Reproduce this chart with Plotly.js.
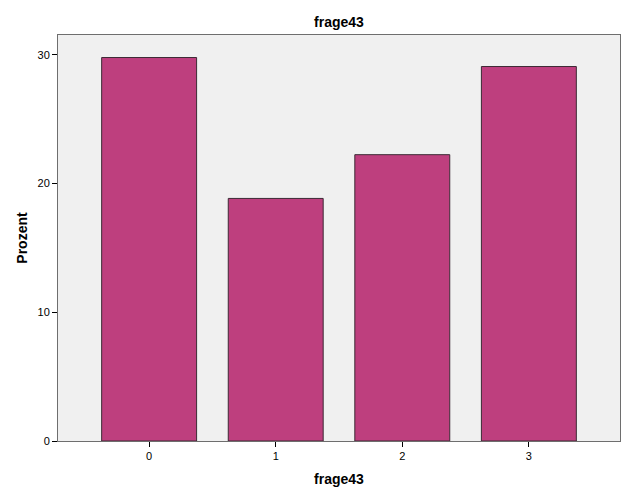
<!DOCTYPE html>
<html>
<head>
<meta charset="utf-8">
<script src="https://cdn.plot.ly/plotly-3.0.1.min.js"></script>
<style>html,body{margin:0;padding:0;background:#fff;}#chart{width:626px;height:501px;}</style>
</head>
<body>
<div id="chart"></div>
<script>
var categories = [0, 1, 2, 3];
var tickLabels = ["0", "1", "2", "3"];
var percentValues = [29.8, 18.85, 22.25, 29.1];
var yTicks = [0, 10, 20, 30];

var trace = {
  type: 'bar',
  x: categories,
  y: percentValues,
  width: 0.75,
  marker: {color: '#BE3F7E', line: {color: '#3C2A34', width: 1}},
  hoverinfo: 'none'
};

var layout = {
  width: 626, height: 501,
  margin: {l: 58, r: 6, t: 35, b: 60, pad: 0},
  paper_bgcolor: '#ffffff',
  plot_bgcolor: '#F0F0F0',
  font: {family: 'Liberation Sans, Arial, sans-serif', size: 11, color: '#000'},
  title: {text: '<b>frage43</b>', font: {size: 14, family: 'Liberation Sans, Arial, sans-serif', color: '#000'}, x: 0.5415, xanchor: 'center', y: 0.956, yanchor: 'middle'},
  showlegend: false,
  bargap: 0,
  xaxis: {
    range: [-0.72, 3.72],
    tickmode: 'array', tickvals: categories, ticktext: tickLabels,
    ticks: 'outside', ticklen: 5, tickcolor: '#000', tickwidth: 1,
    showline: true, linecolor: '#6E6E6E', linewidth: 1, mirror: true,
    showgrid: false, zeroline: false,
    tickfont: {size: 11},
    title: {text: '<b>frage43</b>', font: {size: 14}, standoff: 12}
  },
  yaxis: {
    range: [0, 31.55],
    tickmode: 'array', tickvals: yTicks,
    ticks: 'outside', ticklen: 5, tickcolor: '#000', tickwidth: 1,
    showline: true, linecolor: '#6E6E6E', linewidth: 1, mirror: true,
    showgrid: false, zeroline: false,
    tickfont: {size: 11},
    title: {text: '<b>Prozent</b>', font: {size: 14}, standoff: 6}
  }
};

Plotly.newPlot('chart', [trace], layout, {displayModeBar: false, staticPlot: true});
</script>
</body>
</html>
